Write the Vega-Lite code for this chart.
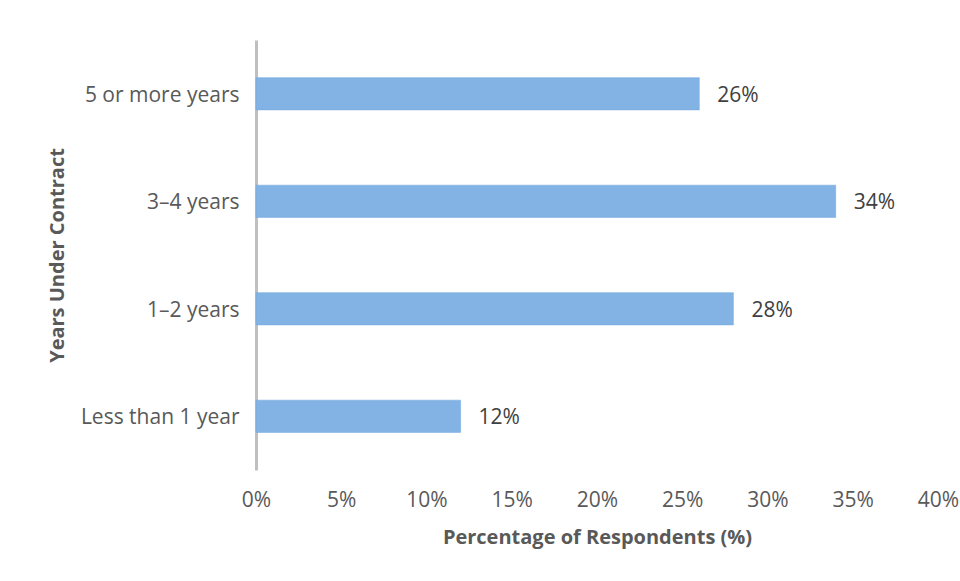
{
  "$schema": "https://vega.github.io/schema/vega-lite/v6.json",
  "autosize": "none",
  "width": 682,
  "height": 430,
  "padding": {"left": 256, "top": 40, "right": 22, "bottom": 111},
  "background": "white",
  "config": {
    "view": {"stroke": null},
    "font": "Open Sans"
  },
  "data": {
    "values": [
      {"group": "5 or more years", "share": 0.26},
      {"group": "3–4 years", "share": 0.34},
      {"group": "1–2 years", "share": 0.28},
      {"group": "Less than 1 year", "share": 0.12}
    ]
  },
  "encoding": {
    "y": {
      "field": "group",
      "type": "nominal",
      "sort": null,
      "scale": {"paddingInner": 0.7, "paddingOuter": 0.35},
      "axis": {
        "title": "Years Under Contract",
        "titleFont": "Open Sans",
        "titleFontSize": 20,
        "titleFontWeight": "bold",
        "titleColor": "#595959",
        "titlePadding": 13,
        "labelFont": "Open Sans",
        "labelFontSize": 21,
        "labelColor": "#595959",
        "labelPadding": 17,
        "labelOffset": 2,
        "ticks": false,
        "domainColor": "#bfbfbf",
        "domainWidth": 3
      }
    },
    "x": {
      "field": "share",
      "type": "quantitative",
      "scale": {"domain": [0, 0.4]},
      "axis": {
        "title": "Percentage of Respondents (%)",
        "titleFont": "Open Sans",
        "titleFontSize": 20,
        "titleFontWeight": "bold",
        "titleColor": "#595959",
        "titlePadding": 17,
        "values": [0, 0.05, 0.1, 0.15, 0.2, 0.25, 0.3, 0.35, 0.4],
        "format": ".0%",
        "labelFlush": false,
        "labelFont": "Open Sans",
        "labelFontSize": 21,
        "labelColor": "#595959",
        "labelPadding": 19,
        "ticks": false,
        "domain": false,
        "grid": false
      }
    }
  },
  "layer": [
    {
      "mark": {"type": "bar", "fill": "#82b3e4", "stroke": "#6fa6df", "strokeWidth": 0.5}
    },
    {
      "mark": {"type": "text", "align": "left", "baseline": "middle", "dx": 18, "dy": 2, "fontSize": 21, "color": "#404040", "font": "Open Sans"},
      "encoding": {
        "text": {"field": "share", "type": "quantitative", "format": ".0%"}
      }
    }
  ]
}
